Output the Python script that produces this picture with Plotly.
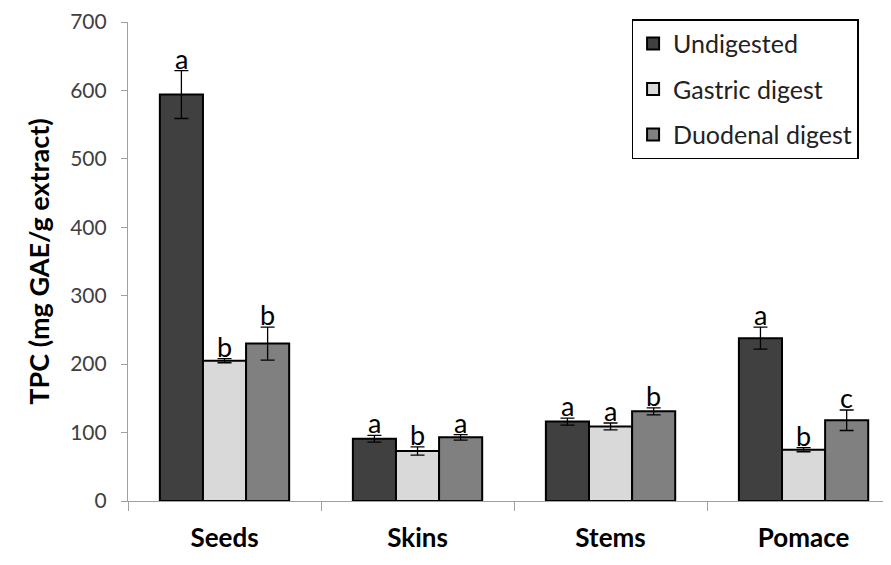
import plotly.graph_objects as go

categories = ["Seeds", "Skins", "Stems", "Pomace"]
series_names = ["Undigested", "Gastric digest", "Duodenal digest"]
undigested = [594, 91, 116, 238]
gastric = [205, 73, 109, 75]
duodenal = [230, 93, 131, 118]
err_undigested = [35, 5, 5, 16]
err_gastric = [3, 6, 5, 3]
err_duodenal = [24, 4, 5, 15]
letters_undigested = ["a", "a", "a", "a"]
letters_gastric = ["b", "b", "a", "b"]
letters_duodenal = ["b", "a", "b", "c"]
y_ticks = [0, 100, 200, 300, 400, 500, 600, 700]

colors = ["#404040", "#d9d9d9", "#808080"]
values = [undigested, gastric, duodenal]
errors = [err_undigested, err_gastric, err_duodenal]
letters = [letters_undigested, letters_gastric, letters_duodenal]
FONT = "Lato, Open Sans, sans-serif"

fig = go.Figure()
for i, (name, vals, errs, col) in enumerate(zip(series_names, values, errors, colors)):
    fig.add_trace(go.Bar(
        name=name, x=categories, y=vals, legendgroup=f"g{i}",
        marker=dict(color=col, line=dict(color="black", width=2)),
        error_y=dict(type="data", array=errs, visible=True, color="black",
                     thickness=1.3, width=7),
    ))

# letters above error bars
n = len(series_names)
group_w = 1 - 0.33
bar_w = group_w / n
for si in range(n):
    for ci, cat in enumerate(categories):
        xc = ci - group_w / 2 + bar_w * (si + 0.5)
        fig.add_annotation(
            x=xc, y=values[si][ci] + errors[si][ci], xref="x", yref="y",
            text=letters[si][ci], showarrow=False, yanchor="bottom",
            yshift=-6, font=dict(family=FONT, size=27, color="black"),
        )

fig.update_layout(
    width=883, height=557,
    margin=dict(l=120, r=0, t=12, b=64),
    plot_bgcolor="white", paper_bgcolor="white",
    barmode="group", bargap=0.33, bargroupgap=0,
    font=dict(family=FONT),
    legend=dict(
        x=0.66, y=1.006, xanchor="left", yanchor="top",
        bordercolor="black", borderwidth=1.5, bgcolor="white",
        font=dict(size=25, color="#222222"),
        traceorder="grouped", tracegroupgap=10,
    ),
    showlegend=True,
)
fig.update_xaxes(
    type="category", range=[-0.5, 3.453],
    showline=True, linecolor="#a0a0a0", linewidth=1.2,
    ticks="outside", tickson="boundaries", ticklen=9, tickcolor="#a0a0a0",
    tickfont=dict(size=26, color="black", family=FONT, weight="bold"),
    ticklabelstandoff=14,
    showgrid=False,
)
fig.update_yaxes(
    range=[0, 700], tickvals=y_ticks,
    showline=True, linecolor="#a0a0a0", linewidth=1.2,
    ticks="outside", ticklen=6, tickcolor="#a0a0a0",
    tickfont=dict(size=21, color="#404040"),
    ticklabelstandoff=10, ticklabeloverflow="allow",
    showgrid=False, zeroline=False,
    title=dict(text="<b>TPC (mg GAE/g extract)</b>", font=dict(size=27, color="black"), standoff=12),
)

fig.write_html("out.html")
